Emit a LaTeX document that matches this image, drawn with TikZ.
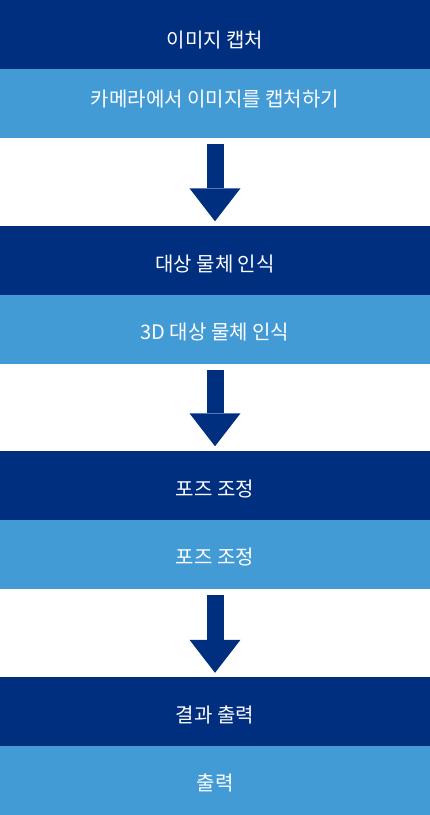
\documentclass[tikz,border=0pt]{standalone}
\usepackage{fontspec}
\newfontfamily\krfont{Noto Sans CJK KR}
\usepackage{tikz}
\usetikzlibrary{arrows.meta}

\definecolor{navy}{RGB}{0,47,127}
\definecolor{skyblue}{RGB}{67,155,214}

\begin{document}
\begin{tikzpicture}[x=1pt, y=1pt,
    head/.style={fill=navy, text=white, minimum width=430pt, minimum height=69pt, inner sep=0pt,
        text height=22pt, text depth=0pt, font=\krfont\fontsize{20pt}{24pt}\selectfont},
    body/.style={head, fill=skyblue, text height=20pt},
    flow/.style={navy, line width=17pt,
        -{Triangle[width=51pt, length=33pt, line width=0pt]}}]
    \useasboundingbox (0,0) rectangle (430,-815);
    % step 1
    \node[head, text height=25pt] (capture) at (215,-34.5) {이미지 캡처};
    \node[body, text height=5pt] (cam) at (215,-103.5) {카메라에서 이미지를 캡처하기};
    % step 2
    \node[head] (detect) at (215,-260) {대상 물체 인식};
    \node[body] (detect3d) at (215,-329) {3D 대상 물체 인식};
    % step 3
    \node[head] (pose) at (215,-485) {포즈 조정};
    \node[body] (posefix) at (215,-554) {포즈 조정};
    % step 4
    \node[head] (result) at (215,-711.5) {결과 출력};
    \node[body] (out) at (215,-780.5) {출력};
    % arrows
    \draw[flow] ([yshift=-6pt]cam.south) -- ([yshift=4pt]detect.north);
    \draw[flow] ([yshift=-6pt]detect3d.south) -- ([yshift=4pt]pose.north);
    \draw[flow] ([yshift=-6pt]posefix.south) -- ([yshift=4pt]result.north);
\end{tikzpicture}
\end{document}
